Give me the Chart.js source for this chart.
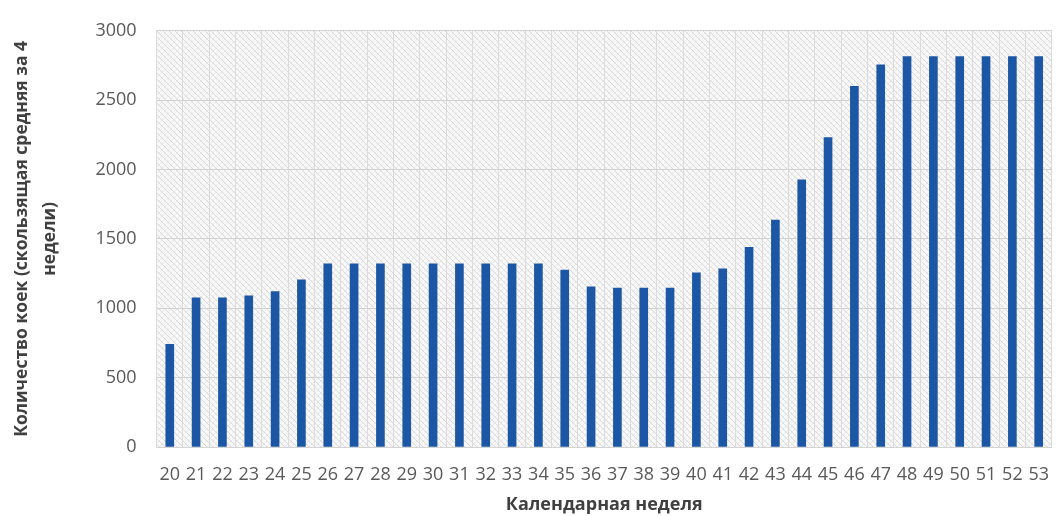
<!DOCTYPE html>
<html lang="ru">
<head>
<meta charset="utf-8">
<title>Количество коек по календарным неделям</title>
<script src="https://cdn.jsdelivr.net/npm/chart.js@4/dist/chart.umd.min.js"></script>
<style>
  html, body { margin: 0; padding: 0; background: #ffffff; overflow: hidden; }
  #wrap { position: relative; width: 1066px; height: 516px; }
</style>
</head>
<body>
<div id="wrap"><canvas id="chart"></canvas></div>
<script>
// Calendar weeks 20..53
const weeks = ['20','21','22','23','24','25','26','27','28','29','30','31','32','33','34','35','36',
               '37','38','39','40','41','42','43','44','45','46','47','48','49','50','51','52','53'];

// Number of beds, 4-week moving average
const beds = [740, 1075, 1075, 1090, 1120, 1205, 1320, 1320, 1320, 1320, 1320, 1320, 1320, 1320, 1320,
              1275, 1155, 1145, 1145, 1145, 1255, 1285, 1440, 1635, 1925, 2230, 2600, 2755,
              2815, 2815, 2815, 2815, 2815, 2815];

const yTicks = [0, 500, 1000, 1500, 2000, 2500, 3000];

const yTitle = ['Количество коек (скользящая средняя за 4', 'недели)'];
const xTitle = 'Календарная неделя';

// Diagonal hatch used as the plot-area fill
function makeHatch() {
  const s = 6;
  const c = document.createElement('canvas');
  c.width = s; c.height = s;
  const g = c.getContext('2d');
  g.fillStyle = '#f8f8f8';
  g.fillRect(0, 0, s, s);
  g.lineWidth = 1;
  g.strokeStyle = '#ececec';
  for (const o of [-s, 0, s]) {
    g.beginPath(); g.moveTo(o - 1, s + 1); g.lineTo(o + s + 1, -1); g.stroke();
  }
  g.strokeStyle = '#dadada';
  for (const o of [-s, 0, s]) {
    g.beginPath(); g.moveTo(o - 1, -1); g.lineTo(o + s + 1, s + 1); g.stroke();
  }
  return c;
}

const plotFill = {
  id: 'plotFill',
  beforeDraw(chart) {
    const { ctx, chartArea: a } = chart;
    ctx.save();
    ctx.fillStyle = ctx.createPattern(makeHatch(), 'repeat');
    ctx.fillRect(a.left, a.top, a.right - a.left, a.bottom - a.top);
    ctx.restore();
  }
};

const tickFont = { family: '"Open Sans", sans-serif', size: 18 };
const titleFont = { family: '"Open Sans", sans-serif', size: 18, weight: 'bold' };

new Chart(document.getElementById('chart'), {
  type: 'bar',
  data: {
    labels: weeks,
    datasets: [{
      data: beds,
      backgroundColor: '#1c57a5',
      borderWidth: 0,
      barThickness: 8
    }]
  },
  plugins: [plotFill],
  options: {
    responsive: true,
    maintainAspectRatio: false,
    animation: false,
    layout: { padding: { top: 27, right: 0, bottom: 0, left: 0 } },
    plugins: {
      legend: { display: false },
      tooltip: { enabled: false }
    },
    scales: {
      x: {
        offset: true,
        grid: { display: true, offset: true, color: '#dcdcdc', lineWidth: 1, drawTicks: false },
        border: { display: true, color: '#d4d4d4' },
        ticks: {
          color: '#595959', font: tickFont, padding: 17,
          autoSkip: false, maxRotation: 0, minRotation: 0
        },
        title: {
          display: true, text: xTitle, color: '#404040', font: titleFont,
          padding: { top: 0, bottom: 0 }
        },
        afterFit(scale) { scale.height = 69; }
      },
      y: {
        min: 0,
        max: 3000,
        afterBuildTicks(scale) { scale.ticks = yTicks.map(v => ({ value: v })); },
        grid: { color: '#d2d2d2', lineWidth: 1, drawTicks: false },
        border: { display: true, color: '#dcdcdc' },
        ticks: {
          color: '#595959', font: tickFont, padding: 20,
          callback: (v) => String(v)
        },
        title: {
          display: true, text: yTitle, color: '#404040',
          font: { family: '"Open Sans", sans-serif', size: 17.5, weight: 'bold', lineHeight: 1.6 },
          padding: { top: 8, bottom: 0 }
        },
        afterFit(scale) { scale.width = 156.6; }
      }
    }
  }
});
</script>
</body>
</html>
